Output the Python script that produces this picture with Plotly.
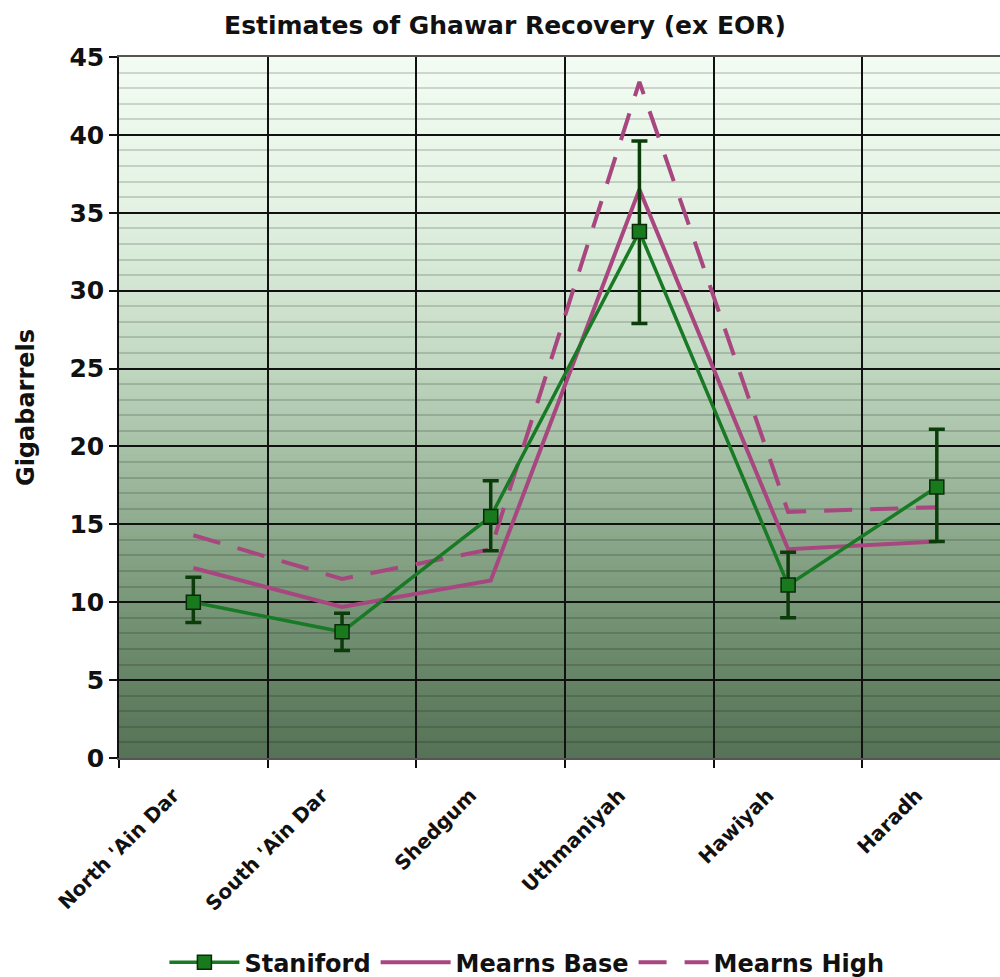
import plotly.graph_objects as go

categories = ["North 'Ain Dar", "South 'Ain Dar", "Shedgum", "Uthmaniyah", "Hawiyah", "Haradh"]
staniford = [10.0, 8.1, 15.5, 33.8, 11.1, 17.4]
staniford_high = [11.6, 9.3, 17.8, 39.6, 13.2, 21.1]
staniford_low = [8.7, 6.9, 13.3, 27.9, 9.0, 13.9]
mearns_base = [12.2, 9.7, 11.4, 36.5, 13.4, 13.9]
mearns_high = [14.3, 11.5, 13.4, 43.4, 15.8, 16.1]
y_ticks = [0, 5, 10, 15, 20, 25, 30, 35, 40, 45]

FONT = "DejaVu Sans"
MEARNS = "#a8477f"
GREEN = "#187a24"

err_up = [h - v for h, v in zip(staniford_high, staniford)]
err_dn = [v - l for v, l in zip(staniford, staniford_low)]

fig = go.Figure()
fig.add_trace(go.Scatter(
    x=categories, y=mearns_base, name="Mearns Base", mode="lines",
    line=dict(color=MEARNS, width=4), legendrank=2))
fig.add_trace(go.Scatter(
    x=categories, y=mearns_high, name="Mearns High", mode="lines",
    line=dict(color=MEARNS, width=4, dash="28px,18px"), legendrank=3))
fig.add_trace(go.Scatter(
    x=categories, y=staniford, name="Staniford", mode="lines+markers",
    line=dict(color=GREEN, width=3.5),
    marker=dict(symbol="square", size=14, color="#187a1c",
                line=dict(color="#0a2a0a", width=1.5)),
    error_y=dict(type="data", symmetric=False, array=err_up, arrayminus=err_dn,
                 color="#0b3d0b", thickness=3.5, width=8),
    legendrank=1))

# vertical gradient background (light green top -> dark green bottom)
stops = [(0.0, (86, 114, 86)), (0.154, (108, 138, 108)), (0.297, (135, 164, 135)),
         (0.44, (166, 192, 166)), (0.582, (197, 219, 197)), (0.796, (228, 243, 228)),
         (1.0, (243, 252, 243))]

def col(f):
    for (f0, c0), (f1, c1) in zip(stops[:-1], stops[1:]):
        if f0 <= f <= f1:
            t = (f - f0) / (f1 - f0)
            return "rgb(%d,%d,%d)" % tuple(round(a + (b - a) * t) for a, b in zip(c0, c1))
    return "rgb(%d,%d,%d)" % stops[-1][1]

N = 120
shapes = []
for i in range(N):
    shapes.append(dict(type="rect", xref="paper", yref="paper", x0=0, x1=1,
                       y0=i / N, y1=(i + 1) / N + 0.002, line=dict(width=0),
                       fillcolor=col((i + 0.5) / N), layer="below"))

fig.update_layout(
    width=1000, height=977,
    margin=dict(l=119, r=0, t=57, b=219, autoexpand=False),
    paper_bgcolor="white", plot_bgcolor="rgba(0,0,0,0)",
    shapes=shapes,
    font=dict(family=FONT, color="black"),
    title=dict(text="Estimates of Ghawar Recovery (ex EOR)",
               font=dict(family=FONT, size=25, weight="bold", color="#111"),
               xref="container", x=0.505, xanchor="center",
               yref="container", y=1 - 25 / 977, yanchor="middle"),
    showlegend=True,
    legend=dict(orientation="h", x=0.463, xanchor="center", y=-0.292, yanchor="middle",
                font=dict(family=FONT, size=24, weight="bold", color="#111"),
                itemwidth=70, bgcolor="rgba(0,0,0,0)"),
    xaxis=dict(type="category", range=[-0.5, 5.425], tickson="boundaries",
               showgrid=True, gridcolor="#111", gridwidth=1.5,
               ticks="outside", ticklen=8, tickcolor="#111", tickwidth=1.5,
               tickangle=-45, tickfont=dict(family=FONT, size=20, weight="bold", color="#111"),
               ticklabelstandoff=16, ticklabelshift=-20,
               showline=True, mirror=True, linecolor="#555", linewidth=1.5,
               zeroline=False),
    yaxis=dict(range=[0, 45], tickvals=y_ticks, showgrid=True, gridcolor="#111", gridwidth=1.5,
               minor=dict(dtick=1, showgrid=True, gridcolor="rgba(0,0,0,0.15)", gridwidth=1.5),
               ticks="outside", ticklen=8, tickcolor="#111", tickwidth=1.5,
               tickfont=dict(family=FONT, size=25, weight="bold", color="#111"),
               showline=True, linecolor="#111", linewidth=1.5, zeroline=False,
               title=dict(text="Gigabarrels", standoff=28,
                          font=dict(family=FONT, size=24, weight="bold", color="#111"))),
)

fig.write_html("out.html", config={"displayModeBar": False},
               post_script="document.body.style.margin='0';document.body.style.padding='0';")
